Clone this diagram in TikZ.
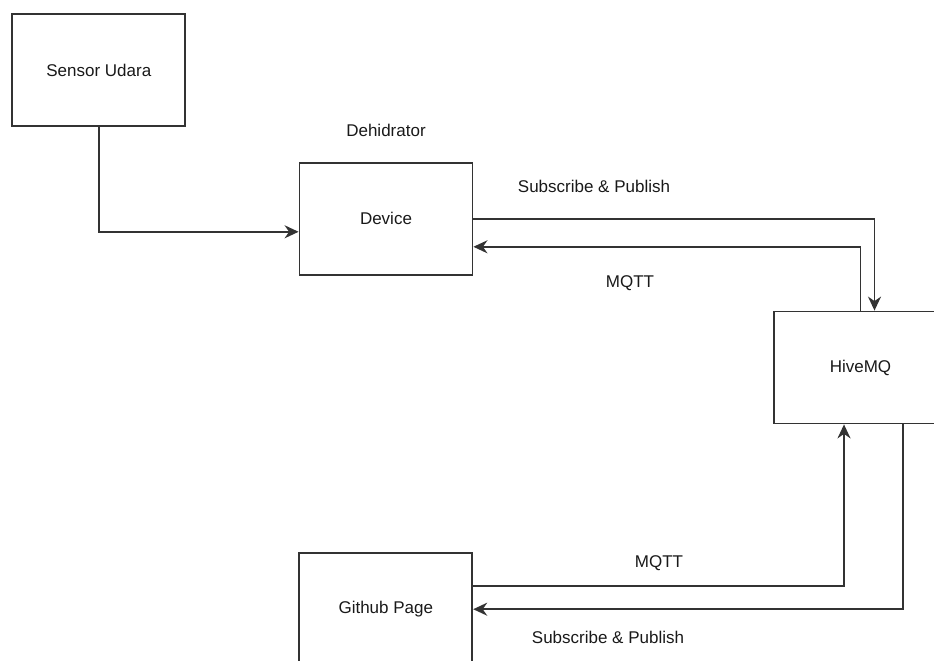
\documentclass[tikz,border=0pt]{standalone}
\usepackage{fontspec}
\setmainfont{Liberation Sans}
\usetikzlibrary{arrows.meta,calc}
\tikzset{
  box/.style={draw=black!80, line width=1.8pt, rectangle, minimum width=173pt, minimum height=112pt, inner sep=0pt, font=\fontsize{17}{20}\selectfont, text=black!90},
  lbl/.style={font=\fontsize{17}{20}\selectfont, text=black!90, inner sep=0pt},
  conn/.style={draw=black!80, line width=1.8pt, -{Stealth[length=14pt,width=13pt,inset=4.5pt]}}
}
\begin{document}
\begin{tikzpicture}[x=1pt,y=-1pt]
\useasboundingbox (0,0) rectangle (934,661);
\node[box] (sensor) at (98.8,70) {Sensor Udara};
\node[box] (device) at (386,218.8) {Device};
\node[lbl] (dehi) at (386,130) {Dehidrator};
\node[box] (hive) at (860.5,367.5) {HiveMQ};
\node[box] (git) at (385.8,609.2) {Github Page};

\coordinate (sd) at ($(device.west)+(0,13)$);
\draw[conn] (sensor.south) |- (sd);

\coordinate (hin) at ($(hive.north)+(14,0)$);
\draw[conn] (device.east) -| (hin);

\coordinate (dret) at ($(device.east)+(0,28)$);
\draw[conn] (hive.north) |- (dret);

\coordinate (gout) at ($(git.east)+(0,-23.5)$);
\coordinate (hsin) at ($(hive.south)+(-16.5,0)$);
\draw[conn] (gout) -| (hsin);

\coordinate (hsout) at ($(hive.south)+(42.5,0)$);
\draw[conn] (hsout) |- (git.east);

\node[lbl] (l1) at (594,186) {Subscribe \& Publish};
\node[lbl] (l2) at (630,283) {MQTT};
\node[lbl] (l3) at (659,563) {MQTT};
\node[lbl] (l4) at (608,637) {Subscribe \& Publish};
\end{tikzpicture}
\end{document}
